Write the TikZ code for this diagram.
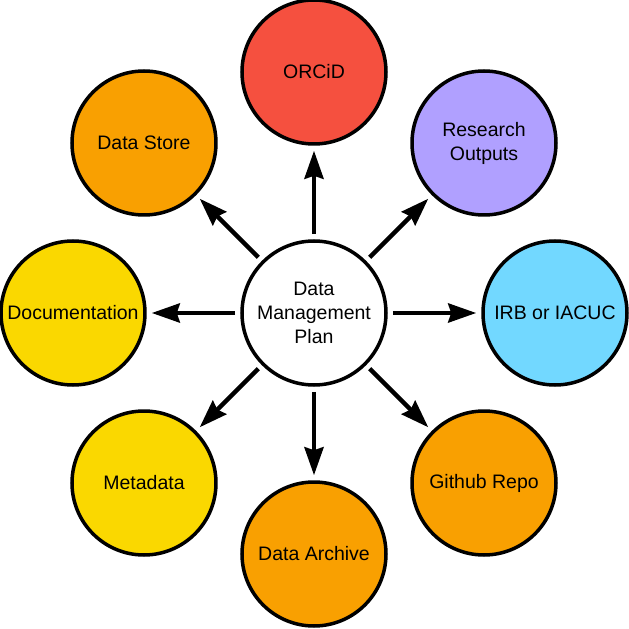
\documentclass[tikz,border=0pt]{standalone}
\usepackage{fontspec}
\setmainfont{Liberation Sans}
\usetikzlibrary{arrows.meta,positioning}

\definecolor{orcidred}{HTML}{F5503F}
\definecolor{outputpurple}{HTML}{B0A0FF}
\definecolor{irbblue}{HTML}{72D8FF}
\definecolor{storeorange}{HTML}{F9A001}
\definecolor{docyellow}{HTML}{FAD800}

\begin{document}
\begin{tikzpicture}[>={Stealth[length=28pt,width=19pt,inset=3pt]},shorten >=5pt,shorten <=5pt,on grid,node distance=241pt,
	bubble/.style={circle,draw,line width=3.5pt,minimum size=144pt,inner sep=0pt,align=center,font=\fontsize{19.5}{24}\selectfont}]

\useasboundingbox (-314pt,-316pt) rectangle (315pt,313pt);

\node[bubble,fill=white]   (dmp)      				{Data\\Management\\Plan};
 \node[bubble,fill=orcidred] 	  (orcid) [above=of dmp]  	{ORCiD};
	\node[bubble,fill=outputpurple]   (outputs) [above right=170pt and 170pt of dmp]      	{Research\\Outputs};
	\node[bubble,fill=irbblue]   (irb) [right=of dmp]      	{IRB or IACUC};
	\node[bubble,fill=storeorange]   (github) [below right=170pt and 170pt of dmp]      	{Github Repo};
	\node[bubble,fill=storeorange]   (archive) [below=of dmp]      	{Data Archive};
	\node[bubble,fill=docyellow]   (metadata) [below left=170pt and 170pt of dmp]      	{Metadata};
	\node[bubble,fill=docyellow]   (docs) [left=of dmp]      	{Documentation};
	\node[bubble,fill=storeorange]   (store) [above left=170pt and 170pt of dmp]      	{Data Store};

	\path[->,line width=4.5pt] (dmp)  edge (orcid)
									edge (outputs)
									edge (irb)
									edge (github)
									edge (archive)
									edge (metadata)
									edge (docs)
									edge (store);

\end{tikzpicture}
\end{document}
